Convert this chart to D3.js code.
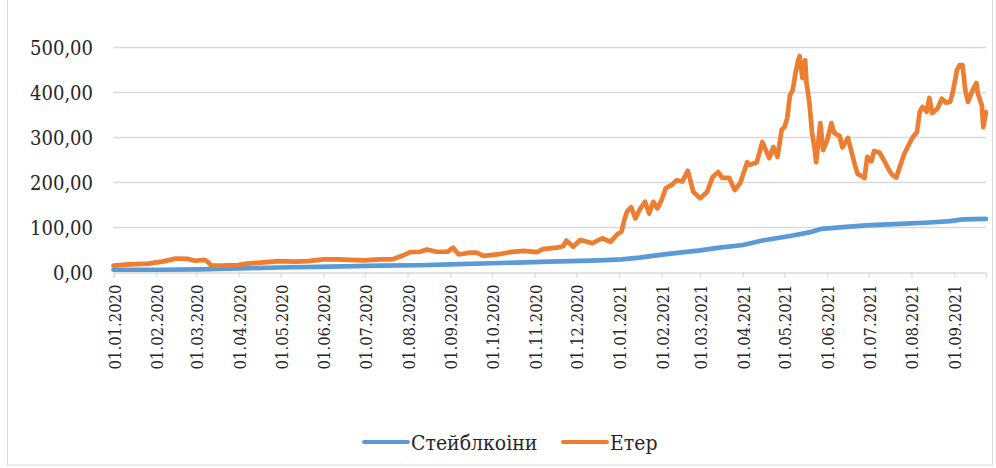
<!DOCTYPE html>
<html>
<head>
<meta charset="utf-8">
<script src="https://cdn.jsdelivr.net/npm/d3@7"></script>
<style>
	body { margin: 0; background: #fff; }
</style>
</head>
<body>
<svg width="996" height="468"></svg>
<script>
	// Стейблкоіни vs Етер, 2020 - 2021

	var stableDates = ["2020-01-01","2020-02-03","2020-03-03","2020-04-01","2020-04-30","2020-06-06","2020-07-12","2020-08-10",
		"2020-09-01","2020-10-07","2020-11-12","2020-12-18","2021-01-03","2021-01-16","2021-01-31","2021-02-14","2021-03-01",
		"2021-03-15","2021-04-01","2021-04-15","2021-05-05","2021-05-19","2021-05-28","2021-06-17","2021-07-02","2021-07-24",
		"2021-08-14","2021-08-29","2021-09-07","2021-09-24"];
	var stableValues = [5,5,6,8,10,12,14,15,17,20,23,26,28,32,38,43,48,54,60,70,80,88,96,101,104,107,110,113,117,118];

	var ethDates = ["2020-01-01","2020-01-12","2020-01-26","2020-02-05","2020-02-11","2020-02-15","2020-02-24","2020-02-29",
		"2020-03-07","2020-03-09","2020-03-12","2020-03-19","2020-03-31","2020-04-07","2020-04-17","2020-04-29","2020-05-11",
		"2020-05-21","2020-06-01","2020-06-12","2020-06-20","2020-06-30","2020-07-12","2020-07-21","2020-07-28","2020-08-03",
		"2020-08-10","2020-08-15","2020-08-22","2020-08-30","2020-09-03","2020-09-07","2020-09-15","2020-09-20","2020-09-25",
		"2020-10-05","2020-10-14","2020-10-24","2020-11-03","2020-11-07","2020-11-17","2020-11-22","2020-11-24","2020-11-29",
		"2020-12-04","2020-12-09","2020-12-13","2020-12-20","2020-12-26","2020-12-31","2021-01-03","2021-01-05","2021-01-07",
		"2021-01-10","2021-01-13","2021-01-16","2021-01-20","2021-01-23","2021-01-26","2021-01-29","2021-02-01","2021-02-04",
		"2021-02-08","2021-02-12","2021-02-16","2021-02-20","2021-02-24","2021-03-01","2021-03-06","2021-03-10","2021-03-14",
		"2021-03-17","2021-03-22","2021-03-26","2021-03-30","2021-04-04","2021-04-06","2021-04-11","2021-04-15","2021-04-20",
		"2021-04-23","2021-04-26","2021-04-29","2021-05-01","2021-05-03","2021-05-05","2021-05-07","2021-05-09","2021-05-11",
		"2021-05-12","2021-05-14","2021-05-16","2021-05-17","2021-05-19","2021-05-21","2021-05-23","2021-05-24","2021-05-27",
		"2021-05-29","2021-06-01","2021-06-04","2021-06-06","2021-06-10","2021-06-12","2021-06-16","2021-06-19","2021-06-21",
		"2021-06-23","2021-06-27","2021-06-28","2021-06-30","2021-07-03","2021-07-05","2021-07-09","2021-07-13","2021-07-16",
		"2021-07-18","2021-07-21","2021-07-24","2021-07-27","2021-07-29","2021-08-02","2021-08-05","2021-08-07","2021-08-09",
		"2021-08-12","2021-08-14","2021-08-16","2021-08-20","2021-08-23","2021-08-26","2021-08-29","2021-08-31","2021-09-03",
		"2021-09-05","2021-09-07","2021-09-09","2021-09-11","2021-09-14","2021-09-17","2021-09-18","2021-09-21","2021-09-22",
		"2021-09-24"];
	var ethValues = [14,17,18.5,23,27,30,29,25,27,23,14,14,15.5,18.5,21,24,23,24,28,28,27,26,28,28,36,44,45,50,45,45,54,39,43,
		43,36,39,44,47,44,51,54,58,70,56,71,67,64,75,67,84,90,116,134,144,119,138,156,130,156,141,160,186,193,204,201,225,178,
		164,178,211,222,209,209,182,198,244,238,244,289,253,278,256,316,322,342,393,404,442,471,480,431,471,420,378,310,271,
		244,331,271,293,331,309,302,277,298,262,238,218,211,209,256,246,269,265,243,225,216,210,238,264,276,300,311,356,367,
		356,387,353,364,385,376,378,400,449,460,460,404,378,402,420,398,370,322,355];

	var monthTicks = ["01.01.2020","01.02.2020","01.03.2020","01.04.2020","01.05.2020","01.06.2020","01.07.2020",
		"01.08.2020","01.09.2020","01.10.2020","01.11.2020","01.12.2020","01.01.2021","01.02.2021","01.03.2021",
		"01.04.2021","01.05.2021","01.06.2021","01.07.2021","01.08.2021","01.09.2021"];
	var yTicks = [0,100,200,300,400,500];
	var seriesNames = ["Стейблкоіни","Етер"];
	var seriesColors = ["#5b9bd5","#ed7d31"];

	var serif = "'DejaVu Serif Condensed', 'DejaVu Serif', serif";
	var parseIso = d3.utcParse("%Y-%m-%d");
	var parseTick = d3.utcParse("%d.%m.%Y");
	var fmtY = function(v) { return d3.format(".2f")(v).replace(".", ","); };

	var svg = d3.select("svg");

	// outer frame of the chart area
	svg.append("rect").attr("x",7.5).attr("y",-1).attr("width",985).attr("height",466)
		.style("fill","white").style("stroke","#d9d9d9").style("stroke-width","1px");

	var x = d3.scaleUtc()
		.domain([parseIso("2020-01-01"), parseIso("2021-09-24")])
		.range([113.5, 986]);
	var y = d3.scaleLinear().domain([0, 500]).range([272, 47]);

	// gridlines
	svg.append("g").selectAll("line").data(yTicks.slice(1)).enter().append("line")
		.attr("x1",113.5).attr("x2",986)
		.attr("y1",function(d){ return Math.round(y(d)) + 0.5; })
		.attr("y2",function(d){ return Math.round(y(d)) + 0.5; })
		.style("stroke","#d9d9d9").style("stroke-width","1.3px");

	// y labels
	svg.append("g").selectAll("text").data(yTicks).enter().append("text")
		.attr("x",93).attr("y",function(d){ return y(d) + 7.5; })
		.attr("text-anchor","end")
		.style("font-family",serif).style("font-size","20px").style("fill","#262626")
		.text(fmtY);

	// x axis
	var xAxis = d3.axisBottom(x)
		.tickValues(monthTicks.map(parseTick))
		.tickSize(5)
		.tickFormat(d3.utcFormat("%d.%m.%Y"));
	var gx = svg.append("g").attr("transform","translate(0,272.5)").call(xAxis);
	gx.select(".domain").style("stroke","#d9d9d9").style("stroke-width","1.3px");
	gx.selectAll(".tick line").style("stroke","#d9d9d9").style("stroke-width","1.3px");
	gx.selectAll(".tick text")
		.attr("transform","translate(6.5,12) rotate(-90)")
		.attr("x",0).attr("y",0).attr("dy",0)
		.attr("text-anchor","end")
		.style("font-family",serif).style("font-size","16.5px").style("fill","#262626");

	// series lines
	var line = d3.line()
		.x(function(d){ return x(d.date); })
		.y(function(d){ return y(d.value); });

	var stable = stableDates.map(function(d,i){ return {date: parseIso(d), value: stableValues[i]}; });
	var eth = ethDates.map(function(d,i){ return {date: parseIso(d), value: ethValues[i]}; });

	[stable, eth].forEach(function(data, i) {
		svg.append("path").datum(data)
			.attr("d", line)
			.style("fill","none")
			.style("stroke", seriesColors[i])
			.style("stroke-width","4.7px")
			.style("stroke-linejoin","round")
			.style("stroke-linecap","round");
	});

	// legend
	var legendX = [364, 563];
	seriesNames.forEach(function(name, i) {
		svg.append("line")
			.attr("x1", legendX[i]).attr("x2", legendX[i] + 44)
			.attr("y1", 442).attr("y2", 442)
			.style("stroke", seriesColors[i]).style("stroke-width","4px").style("stroke-linecap","round");
		svg.append("text")
			.attr("x", legendX[i] + 47).attr("y", 450)
			.style("font-family",serif).style("font-size","21px").style("fill","#262626")
			.text(name);
	});
</script>
</body>
</html>
